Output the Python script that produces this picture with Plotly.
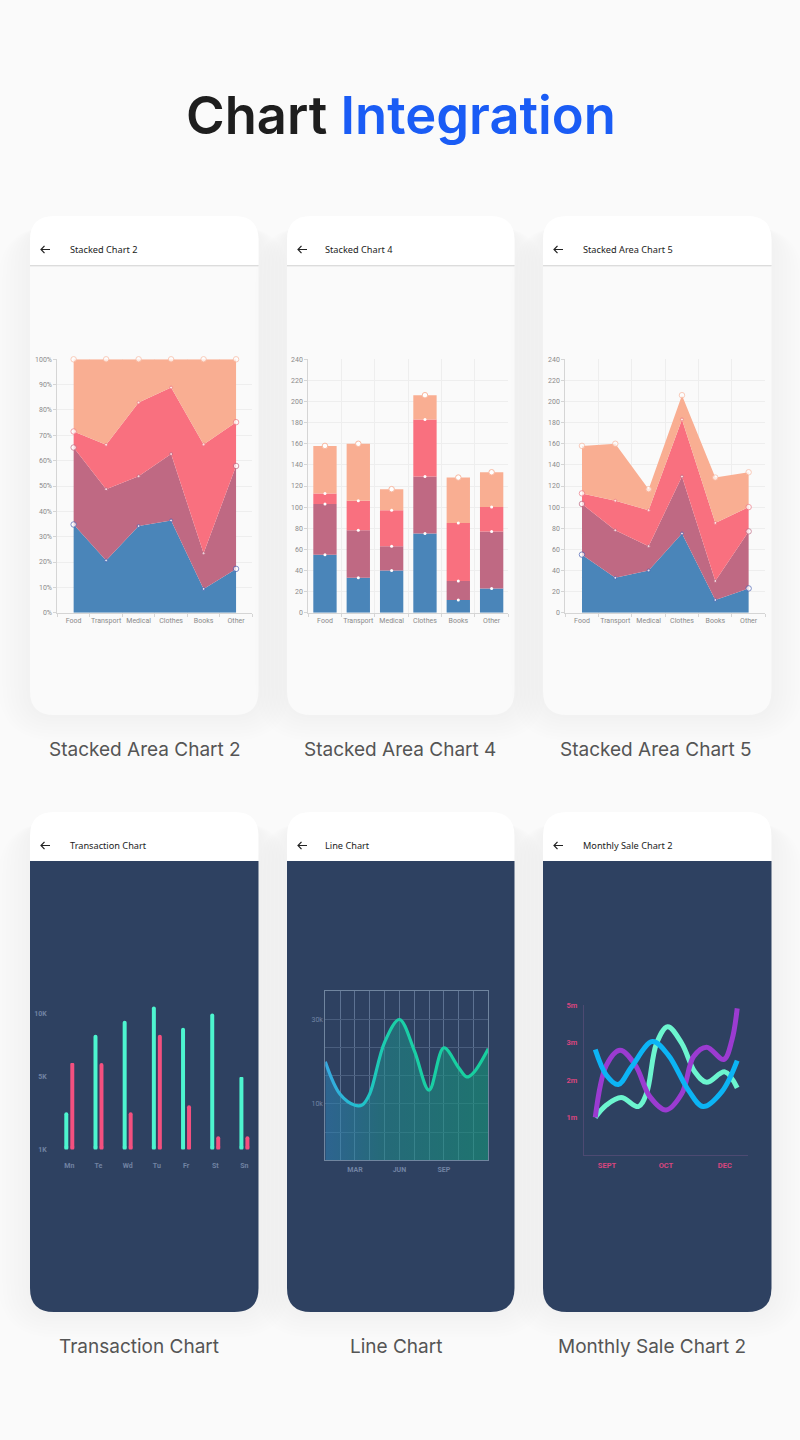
import numpy as np
import plotly.graph_objects as go

W, H = 800, 1440

categories = ['Food', 'Transport', 'Medical', 'Clothes', 'Books', 'Other']
series_a = [55, 33, 40, 75, 12, 23]
series_b = [48, 45, 23, 54, 18, 54]
series_c = [10, 28, 34, 54, 55, 23]
series_d = [45, 54, 20, 23, 43, 33]

days = ['Mn', 'Te', 'Wd', 'Tu', 'Fr', 'St', 'Sn']
trans_in = [2.5, 8, 9, 10, 8.5, 9.5, 5]
trans_out = [6, 6, 2.5, 8, 3, 0.8, 0.8]
trans_cap = [-0.14] * 7

months = list(range(12))
month_labels = ['', '', 'MAR', '', '', 'JUN', '', '', 'SEP', '', '', '']
month_x = [0, 1, 2, 2.5, 3, 4, 5, 6, 7, 8, 9, 9.55, 10, 11]
month_values = [20, 12.3, 9.7, 9.8, 12.4, 24.6, 30, 22.7, 13.3, 23.3, 18.6, 16.4, 17.4, 23.1]
month_floor = [-3.33] * 14

purple_x = [-0.2, -0.01, 0.22, 0.48, 0.73, 1.0, 1.27, 1.47, 1.69, 1.98, 2.12, 2.21]
purple_y = [1.0, 2.4, 2.8, 2.4, 1.55, 1.2, 1.64, 2.63, 2.88, 2.55, 3.07, 3.92]
mint_x = [-0.2, -0.01, 0.24, 0.53, 0.67, 0.84, 1.03, 1.27, 1.49, 1.69, 2.0, 2.21]
mint_y = [1.0, 1.33, 1.53, 1.29, 1.64, 2.98, 3.43, 2.98, 2.22, 1.94, 2.22, 1.79]
cyan_x = [-0.2, -0.01, 0.19, 0.42, 0.77, 1.04, 1.38, 1.63, 1.95, 2.21]
cyan_y = [2.82, 2.13, 1.88, 2.36, 3.03, 2.67, 1.73, 1.29, 1.69, 2.52]

COLORS = ['#4a85b9', '#bf6983', '#f9707f', '#f9ae92']
RINGS = ['#4a62b5', '#bf6983', '#f07a88', '#f9b8a0']
NAVY = '#2e4161'
GRID = '#eeeeee'
TICK = '#8a8a8a'


def px(x):
    return x / W


def py(y):
    return 1 - y / H


def rounded(x0, y0, x1, y1, rt, rb):
    # rounded rect path in page pixels, converted to paper coords
    pts = [
        ('M', x0 + rt, y0), ('L', x1 - rt, y0), ('Q', x1, y0, x1, y0 + rt),
        ('L', x1, y1 - rb), ('Q', x1, y1, x1 - rb, y1), ('L', x0 + rb, y1),
        ('Q', x0, y1, x0, y1 - rb), ('L', x0, y0 + rt), ('Q', x0, y0, x0 + rt, y0),
    ]
    out = []
    for p in pts:
        nums = p[1:]
        vals = []
        for i in range(0, len(nums), 2):
            vals.append(f'{px(nums[i]):.5f},{py(nums[i + 1]):.5f}')
        out.append(p[0] + ' ' + ' '.join(vals))
    return ' '.join(out) + ' Z'


def card_shape(path, fill, opacity=1):
    return dict(type='path', path=path, xref='paper', yref='paper', fillcolor=fill,
                opacity=opacity, line=dict(width=0), layer='below')


def text(x, y, s, size, color, family='Noto Sans', xanchor='center', weight=None):
    return dict(x=px(x), y=py(y), xref='paper', yref='paper', text=s, showarrow=False,
                xanchor=xanchor, yanchor='middle',
                font=dict(size=size, color=color, family=family, weight=weight))


def cat_axis(x0, x1, anchor):
    return dict(domain=[px(x0), px(x1)], anchor=anchor, type='category', tickson='boundaries',
                range=[-0.5, 5.5], showgrid=True, gridcolor=GRID, gridwidth=1, tickangle=0,
                showline=True, linecolor='#d5d5d5', ticks='outside', ticklen=3, tickcolor='#d5d5d5',
                tickfont=dict(size=7, color=TICK, family='Roboto'), ticklabelstandoff=1)


def val_axis(anchor, top, dtick, suffix=''):
    return dict(domain=[py(612.7), py(359.3)], anchor=anchor, range=[0, top], dtick=dtick,
                showgrid=True, gridcolor=GRID, zeroline=False, ticksuffix=suffix,
                showline=True, linecolor='#d5d5d5', ticks='outside', ticklen=3, tickcolor='#d5d5d5',
                tickfont=dict(size=7, color=TICK, family='Roboto'))


fig = go.Figure()
stack = [series_a, series_b, series_c, series_d]
names = ['Series 1', 'Series 2', 'Series 3', 'Series 4']

# 1. 100% stacked area
for i, vals in enumerate(stack):
    sizes = [5.5] * 6 if i == 3 else [5.5, 3, 3, 3, 3, 5.5]
    fig.add_trace(go.Scatter(
        x=categories, y=vals, name=names[i], mode='lines+markers', stackgroup='pct', groupnorm='percent',
        fillcolor=COLORS[i], line=dict(width=0, color=COLORS[i]),
        marker=dict(size=sizes, color='white', line=dict(width=1, color=RINGS[i])),
        xaxis='x', yaxis='y', cliponaxis=False))

# 2. stacked bars, dots on top of each block
for i, vals in enumerate(stack):
    fig.add_trace(go.Bar(x=categories, y=vals, name=names[i], marker=dict(color=COLORS[i], line=dict(width=0)),
                         xaxis='x2', yaxis='y2'))
running = np.cumsum(stack, axis=0)
for i, vals in enumerate(running):
    fig.add_trace(go.Scatter(
        x=categories, y=vals, mode='markers', name=names[i],
        marker=dict(size=5.5 if i == 3 else 3, color='white', line=dict(width=1, color=RINGS[3]) if i == 3 else dict(width=0)),
        xaxis='x2', yaxis='y2', cliponaxis=False))

# 3. stacked area
for i, vals in enumerate(stack):
    sizes = [5.5] * 6 if i == 3 else [5.5, 3, 3, 3, 3, 5.5]
    fig.add_trace(go.Scatter(
        x=categories, y=vals, name=names[i], mode='lines+markers', stackgroup='abs',
        fillcolor=COLORS[i], line=dict(width=0, color=COLORS[i]),
        marker=dict(size=sizes, color='white', line=dict(width=1, color=RINGS[i])),
        xaxis='x3', yaxis='y3', cliponaxis=False))

# 4. transaction bars
for vals, col, grp in [(trans_in, '#4df5cf', 'in'), (trans_out, '#f4507f', 'out')]:
    fig.add_trace(go.Bar(x=days, y=vals, offsetgroup=grp, marker=dict(color=col, line=dict(width=0), cornerradius=2),
                         xaxis='x4', yaxis='y4'))
    fig.add_trace(go.Bar(x=days, y=trans_cap, offsetgroup=grp, marker=dict(color=col, line=dict(width=0), cornerradius=2),
                         xaxis='x4', yaxis='y4'))

# 5. line chart, filled down to the bottom of the axis
fig.add_trace(go.Scatter(x=month_x, y=month_floor, mode='lines', line=dict(width=0), xaxis='x5', yaxis='y5'))
fig.add_trace(go.Scatter(
    x=month_x, y=month_values, mode='lines', line=dict(shape='spline', smoothing=1, width=3.2, color='#1bcfa0'),
    fill='tonexty', fillgradient=dict(type='horizontal', colorscale=[[0, 'rgba(45,135,190,0.5)'], [0.35, 'rgba(30,140,140,0.55)'], [1, 'rgba(20,150,120,0.6)']]),
    xaxis='x5', yaxis='y5'))

# 6. monthly sale lines
for xs, ys, col in [(mint_x, mint_y, '#6cf5cf'), (purple_x, purple_y, '#9b3bd1'), (cyan_x, cyan_y, '#0cb4f5')]:
    fig.add_trace(go.Scatter(x=xs, y=ys, mode='lines', line=dict(shape='spline', smoothing=1, width=5, color=col),
                             xaxis='x6', yaxis='y6', cliponaxis=False))

# cards
shapes = []
annotations = []
card_x = [(30, 258.5), (287, 514.5), (543, 771.5)]
for x0, x1 in card_x:
    for y0, y1, dark in [(216, 715, False), (812, 1312, True)]:
        for grow in [4, 8, 12, 16, 20, 24, 28, 32]:
            shapes.append(card_shape(rounded(x0 - grow, y0 + 10, x1 + grow, y1 + grow * 0.8, 24 + grow, 24 + grow), '#000000', 0.004))
        head = 49
        if dark:
            shapes.append(card_shape(rounded(x0, y0 + head, x1, y1, 0, 24), NAVY))
        else:
            shapes.append(card_shape(rounded(x0, y0, x1, y1, 24, 24), '#fafafa'))
            shapes.append(card_shape(rounded(x0, y0 + head, x1, y0 + head + 2, 0, 0), '#efefef'))
            shapes.append(card_shape(rounded(x0, y0 + head, x1, y0 + head + 1, 0, 0), '#dcdcdc'))
        shapes.append(card_shape(rounded(x0, y0, x1, y0 + head, 24, 0), '#ffffff'))
        ay = y0 + 33.5
        arrow = (f'M {px(x0 + 11):.5f},{py(ay):.5f} L {px(x0 + 20):.5f},{py(ay):.5f} '
                 f'M {px(x0 + 14.5):.5f},{py(ay - 3.7):.5f} L {px(x0 + 11):.5f},{py(ay):.5f} L {px(x0 + 14.5):.5f},{py(ay + 3.7):.5f}')
        shapes.append(dict(type='path', path=arrow, xref='paper', yref='paper', line=dict(width=1.2, color='#222222')))

annotations.append(text(401, 115.5, "Chart <span style='color:#1a5cf5'>Integration</span>", 52.5, '#1e1e1e', 'Inter', weight=600))

heads = [(67.5, 249.5, 'Stacked Chart 2'), (323, 249.5, 'Stacked Chart 4'), (580.5, 249.5, 'Stacked Area Chart 5'),
         (67.5, 845.5, 'Transaction Chart'), (323, 845.5, 'Line Chart'), (580.5, 845.5, 'Monthly Sale Chart 2')]
for x, y, s in heads:
    annotations.append(text(x, y, s, 9.2, '#222222', 'Noto Sans', xanchor='left'))

captions = [(145, 749, 'Stacked Area Chart 2'), (400, 749, 'Stacked Area Chart 4'), (656, 749, 'Stacked Area Chart 5'),
            (138.5, 1346, 'Transaction Chart'), (395.5, 1346, 'Line Chart'), (651.5, 1346, 'Monthly Sale Chart 2')]
for x, y, s in captions:
    annotations.append(text(x, y, s, 19, '#555555', 'Inter'))

axis_grey = '#7183a3'
fig.update_layout(
    width=W, height=H, margin=dict(l=0, r=0, t=0, b=0, autoexpand=False), showlegend=False,
    paper_bgcolor='#fafafa', plot_bgcolor='rgba(0,0,0,0)',
    barmode='relative', bargap=0.3,
    shapes=shapes, annotations=annotations,
    xaxis=cat_axis(57.4, 252.3, 'y'),
    yaxis=val_axis('x', 100, 10, '%'),
    xaxis2=cat_axis(308.3, 508.3, 'y2'),
    yaxis2=val_axis('x2', 240, 20),
    xaxis3=cat_axis(565.3, 765.3, 'y3'),
    yaxis3=val_axis('x3', 240, 20),
    xaxis4=dict(domain=[px(54.7), px(259)], anchor='y4', type='category', range=[-0.5, 6.5], showgrid=False,
                showline=False, ticks='', ticklabelstandoff=5, tickangle=0,
                tickfont=dict(size=7, color=axis_grey, family='Roboto', weight=700)),
    yaxis4=dict(domain=[py(1154.5), py(999.5)], anchor='x4', range=[-0.5, 10.5], showgrid=False, zeroline=False,
                showline=False, ticks='', tickvals=[-0.14, 5, 9.5], ticktext=['1K', '5K', '10K'], ticklabelstandoff=7,
                tickfont=dict(size=7, color=axis_grey, family='Roboto', weight=700)),
    xaxis5=dict(domain=[px(325.3), px(488.3)], anchor='y5', range=[0, 11], tickvals=months,
                ticktext=month_labels, tickangle=0,
                showgrid=True, gridcolor='#5d7292', showline=True, linecolor='#70859f', mirror=True, ticks='',
                tickfont=dict(size=7, color=axis_grey, family='Roboto', weight=700), ticklabelstandoff=2),
    yaxis5=dict(domain=[py(1160.3), py(991.3)], anchor='x5', range=[-3.33, 36.67],
                tickvals=[3.33, 10, 16.67, 23.33, 30], ticktext=['', '10k', '', '', '30k'], zeroline=False,
                showgrid=True, gridcolor='#4a5e7e', showline=True, linecolor='#70859f', mirror=True, ticks='',
                tickfont=dict(size=7, color=axis_grey, family='Roboto')),
    xaxis6=dict(domain=[px(583.7), px(747.7)], anchor='y6', range=[-0.396, 2.388], tickvals=[0, 1, 2], tickangle=0,
                ticktext=['SEPT', 'OCT', 'DEC'], showgrid=False, zeroline=False, showline=True, linecolor='#4d4a72', ticks='',
                tickfont=dict(size=7.5, color='#d8467f', family='Roboto', weight=700), ticklabelstandoff=3),
    yaxis6=dict(domain=[py(1154.7), py(1005.4)], anchor='x6', range=[0, 4], tickvals=[1, 2, 3, 4],
                ticktext=['1m', '2m', '3m', '5m'], showgrid=False, zeroline=False, showline=True, linecolor='#4d4a72', ticks='',
                tickfont=dict(size=7.5, color='#d8467f', family='Roboto', weight=700), ticklabelstandoff=4),
)

# bars of the transaction chart: two slots per day, each 4px wide in a 29px band
fig.update_traces(selector=dict(type='bar', xaxis='x4'), width=0.137)
fig.update_traces(selector=dict(type='bar', xaxis='x4', offsetgroup='in'), offset=-0.171)
fig.update_traces(selector=dict(type='bar', xaxis='x4', offsetgroup='out'), offset=0.034)

# plotly has no gradient stroke, so it is set on the drawn line
post = """
document.body.style.margin = '0';
document.body.style.background = '#fafafa';
var gd = document.getElementById('{plot_id}');
function paintLine() {
  var lines = gd.querySelectorAll('.x5y5 .scatterlayer path.js-line');
  var defs = gd.querySelector('.main-svg defs');
  if (!lines.length || !defs) return;
  if (!document.getElementById('lineGrad')) {
    var ns = 'http://www.w3.org/2000/svg';
    var g = document.createElementNS(ns, 'linearGradient');
    g.id = 'lineGrad';
    [['0', '#38a8e0'], ['0.2', '#22c0cf'], ['0.4', '#1bcfa8'], ['1', '#17cf9e']].forEach(function (s) {
      var st = document.createElementNS(ns, 'stop');
      st.setAttribute('offset', s[0]);
      st.setAttribute('stop-color', s[1]);
      g.appendChild(st);
    });
    defs.appendChild(g);
  }
  lines[lines.length - 1].style.stroke = 'url(#lineGrad)';
}
paintLine();
gd.on('plotly_afterplot', paintLine);
"""
fig.write_html("out.html", post_script=post, config=dict(displayModeBar=False))
